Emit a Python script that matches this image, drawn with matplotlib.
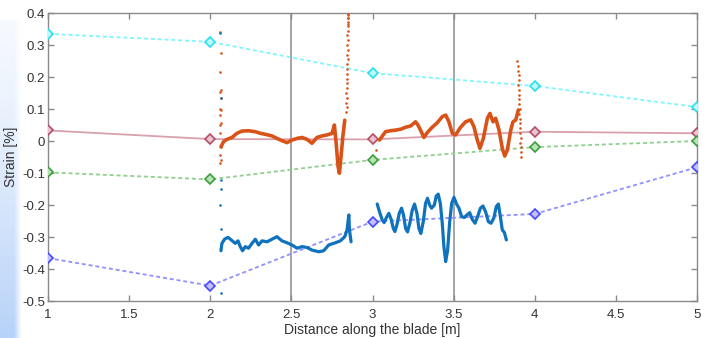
import numpy as np
import matplotlib
matplotlib.use("Agg")
import matplotlib.pyplot as plt

plt.rcParams['font.family'] = ['Liberation Sans Narrow', 'Liberation Sans', 'DejaVu Sans']
plt.rcParams['axes.unicode_minus'] = False

# ---- model (diamond) series at stations ----
stations = [1, 2, 3, 4, 5]
cyan_vals = [0.335, 0.310, 0.212, 0.172, 0.106]
pink_vals = [0.033, 0.006, 0.005, 0.029, 0.024]
green_vals = [-0.098, -0.120, -0.059, -0.019, 0.000]
blue_vals = [-0.366, -0.452, -0.252, -0.228, -0.082]

# ---- measured orange curve ----
or1_x = [2.066, 2.082, 2.103, 2.134, 2.164, 2.195, 2.236, 2.278, 2.309, 2.339, 2.380, 2.411,
         2.442, 2.473, 2.504, 2.535, 2.566, 2.597, 2.627, 2.658, 2.689, 2.720, 2.751, 2.765,
         2.776, 2.788, 2.796, 2.806, 2.817, 2.829]
or1_y = [-0.018, -0.002, 0.005, 0.011, 0.024, 0.031, 0.032, 0.029, 0.024, 0.021, 0.016, 0.008,
         0.001, -0.005, 0.003, 0.008, 0.011, 0.005, -0.007, 0.011, 0.016, 0.019, 0.024, 0.050,
         -0.007, -0.080, -0.101, -0.049, 0.013, 0.065]
or2_x = [3.043, 3.080, 3.110, 3.142, 3.175, 3.204, 3.235, 3.265, 3.280, 3.296, 3.317, 3.337,
         3.368, 3.399, 3.430, 3.451, 3.471, 3.492, 3.512, 3.543, 3.574, 3.605, 3.625, 3.646,
         3.662, 3.683, 3.708, 3.724, 3.743, 3.759, 3.780, 3.800, 3.815, 3.831, 3.852, 3.866,
         3.883, 3.899]
or2_y = [0.003, 0.029, 0.032, 0.034, 0.037, 0.043, 0.047, 0.060, 0.050, 0.034, 0.011, 0.026,
         0.043, 0.057, 0.076, 0.081, 0.060, 0.024, 0.019, 0.043, 0.060, 0.066, 0.045, 0.003,
         -0.023, 0.008, 0.071, 0.086, 0.060, 0.071, 0.034, -0.023, -0.047, -0.028, 0.034, 0.060,
         0.066, 0.097]
or_dots_x = [2.062, 2.064, 2.060, 2.066, 2.063, 2.065, 2.062, 2.067, 2.061, 2.064, 2.060,
             2.063, 2.066, 2.061, 2.065, 2.063,
             2.836, 2.840, 2.838, 2.842, 2.839, 2.843, 2.841, 2.845, 2.840, 2.844, 2.842,
             2.846, 2.843, 2.847, 2.844, 2.848, 2.845, 2.849, 2.846, 2.850, 2.847, 2.851,
             2.848, 2.852, 2.849,
             3.020,
             3.893, 3.896, 3.898, 3.900, 3.902, 3.899, 3.903, 3.901, 3.905, 3.904, 3.907,
             3.906, 3.909, 3.908, 3.911, 3.910, 3.913, 3.912, 3.915, 3.914, 3.916]
or_dots_y = [0.340, 0.275, 0.216, 0.160, 0.153, 0.134, 0.100, 0.097, 0.080, 0.056, 0.050,
             0.025, -0.018, -0.045, -0.058, -0.068,
             0.090, 0.105, 0.120, 0.135, 0.150, 0.165, 0.180, 0.195, 0.210, 0.225, 0.240,
             0.255, 0.270, 0.285, 0.300, 0.315, 0.330, 0.345, 0.360, 0.372, 0.383, 0.393,
             0.398, 0.385, 0.365,
             -0.028,
             0.250, 0.235, 0.220, 0.205, 0.190, 0.175, 0.160, 0.145, 0.130, 0.115, 0.100,
             0.085, 0.070, 0.055, 0.040, 0.025, 0.010, -0.005, -0.020, -0.035, -0.050]

# ---- measured blue curve ----
bl1_x = [2.066, 2.072, 2.088, 2.109, 2.129, 2.154, 2.171, 2.185, 2.199, 2.216, 2.236, 2.257,
         2.278, 2.298, 2.319, 2.350, 2.380, 2.411, 2.442, 2.473, 2.504, 2.535, 2.566, 2.597,
         2.627, 2.669, 2.699, 2.730, 2.771, 2.802, 2.829, 2.843, 2.854, 2.858, 2.868]
bl1_y = [-0.343, -0.320, -0.307, -0.301, -0.309, -0.320, -0.312, -0.330, -0.343, -0.330,
         -0.335, -0.320, -0.307, -0.325, -0.312, -0.315, -0.307, -0.299, -0.312, -0.318,
         -0.325, -0.335, -0.330, -0.333, -0.341, -0.346, -0.343, -0.325, -0.318, -0.312,
         -0.299, -0.278, -0.231, -0.278, -0.315]
bl2_x = [3.029, 3.043, 3.060, 3.072, 3.086, 3.101, 3.115, 3.128, 3.138, 3.150, 3.165, 3.179,
         3.191, 3.204, 3.216, 3.230, 3.245, 3.259, 3.274, 3.286, 3.298, 3.313, 3.327, 3.339,
         3.352, 3.364, 3.381, 3.393, 3.405, 3.418, 3.430, 3.440, 3.451, 3.463, 3.475, 3.488,
         3.502, 3.518, 3.533, 3.549, 3.566, 3.582, 3.599, 3.615, 3.632, 3.648, 3.665, 3.681,
         3.697, 3.714, 3.730, 3.747, 3.763, 3.776, 3.788, 3.800, 3.813, 3.825]
bl2_y = [-0.197, -0.221, -0.247, -0.255, -0.239, -0.226, -0.245, -0.273, -0.283, -0.263,
         -0.226, -0.210, -0.231, -0.273, -0.284, -0.257, -0.216, -0.197, -0.226, -0.273,
         -0.289, -0.252, -0.195, -0.179, -0.200, -0.210, -0.200, -0.172, -0.166, -0.195,
         -0.257, -0.330, -0.377, -0.341, -0.257, -0.195, -0.176, -0.197, -0.210, -0.236,
         -0.239, -0.231, -0.224, -0.245, -0.257, -0.236, -0.210, -0.203, -0.221, -0.252,
         -0.257, -0.242, -0.205, -0.197, -0.236, -0.278, -0.286, -0.309]
bl_dots_x = [2.063, 2.064, 2.065, 2.064, 2.063, 2.065, 2.064]
bl_dots_y = [0.337, 0.134, -0.122, -0.150, -0.200, -0.275, -0.474]

vlines_x = [2.5, 3.5]

xticks = [1, 1.5, 2, 2.5, 3, 3.5, 4, 4.5, 5]
xtick_labels = ['1', '1.5', '2', '2.5', '3', '3.5', '4', '4.5', '5']
yticks = [-0.5, -0.4, -0.3, -0.2, -0.1, 0, 0.1, 0.2, 0.3, 0.4]
ytick_labels = ['-0.5', '-0.4', '-0.3', '-0.2', '-0.1', '0', '0.1', '0.2', '0.3', '0.4']

fig = plt.figure(figsize=(7.11, 3.38), dpi=100)

# left decorative gradient strip
gax = fig.add_axes([0, 0, 22 / 711, 1 - 20 / 338])
gax.axis('off')
h, w = 100, 22
yy = np.linspace(0, 1, h)[:, None]
xx = np.linspace(0, 1, w)[None, :]
strength = (0.08 + 0.55 * yy ** 1.3) * np.clip((1.0 - xx) / 0.35, 0, 1)
base = np.array([0.55, 0.72, 0.96])
img = np.ones((h, w, 3)) * (1 - strength[..., None]) + base * strength[..., None]
gax.imshow(img, aspect='auto', origin='upper', extent=[0, 1, 0, 1])

ax = fig.add_axes([48 / 711, 1 - 301 / 338, (697 - 48) / 711, (301 - 13) / 338])
ax.patch.set_alpha(0)

spine_col = '#8a8a8a'
for s in ax.spines.values():
    s.set_color(spine_col)
    s.set_linewidth(1.0)

for xv in vlines_x:
    ax.axvline(xv, color='#8c8c8c', lw=1.1, zorder=1)

dash = (0, (2.2, 1.6))
ax.plot(stations, cyan_vals, linestyle=dash, color='#7ff5ff', lw=1.3, marker='D', ms=5.5,
        mfc='#bff9ff', mec='#25e0f0', mew=1.2, zorder=3)
ax.plot(stations, pink_vals, linestyle='-', color='#d9a0ad', lw=1.3, marker='D', ms=5.5,
        mfc='#e8c4cc', mec='#b44e68', mew=1.2, zorder=3)
ax.plot(stations, green_vals, linestyle=dash, color='#8fd08f', lw=1.3, marker='D', ms=5.5,
        mfc='#b8e3b8', mec='#3c9e3c', mew=1.2, zorder=3)
ax.plot(stations, blue_vals, linestyle=dash, color='#9090ff', lw=1.3, marker='D', ms=5.5,
        mfc='#c0c0ff', mec='#4848ff', mew=1.2, zorder=3)

orange = '#d95319'
blue = '#0f72bd'
ax.plot(or1_x, or1_y, color=orange, lw=2.6, zorder=4, solid_joinstyle='round',
        solid_capstyle='round')
ax.plot(or2_x, or2_y, color=orange, lw=2.6, zorder=4, solid_joinstyle='round',
        solid_capstyle='round')
ax.scatter(or_dots_x, or_dots_y, s=3.5, color=orange, zorder=4, linewidths=0)
ax.plot(bl1_x, bl1_y, color=blue, lw=2.3, zorder=4, solid_joinstyle='round',
        solid_capstyle='round')
ax.plot(bl2_x, bl2_y, color=blue, lw=2.3, zorder=4, solid_joinstyle='round',
        solid_capstyle='round')
ax.scatter(bl_dots_x, bl_dots_y, s=3.5, color=blue, zorder=4, linewidths=0)

ax.set_xlim(1, 5)
ax.set_ylim(-0.5, 0.4)
ax.set_xticks(xticks)
ax.set_xticklabels(xtick_labels)
ax.set_yticks(yticks)
ax.set_yticklabels(ytick_labels)
ax.tick_params(direction='in', length=4, width=1, color=spine_col, labelcolor='#333333',
               labelsize=9.5, top=True, right=True)
ax.tick_params(axis='x', pad=6)
ax.tick_params(axis='y', pad=2)

ax.set_xlabel('Distance along the blade [m]', fontsize=10, color='#333333', labelpad=1)
ax.set_ylabel('Strain [%]', fontsize=10, color='#333333', labelpad=3)

fig.savefig('out.png', dpi=100)
